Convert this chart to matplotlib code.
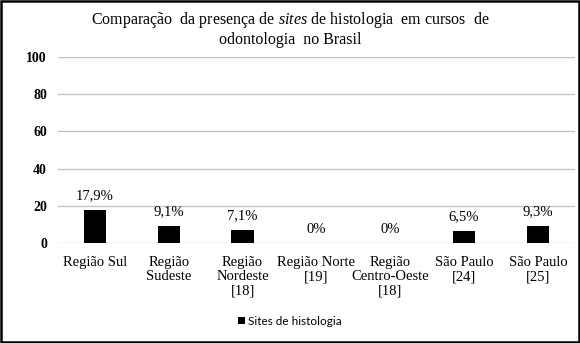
import matplotlib
matplotlib.use("Agg")
import matplotlib.pyplot as plt
from matplotlib.patches import Rectangle
import numpy as np

categorias = [
    "Região Sul",
    "Região\nSudeste",
    "Região\nNordeste\n[18]",
    "Região Norte\n[19]",
    "Região\nCentro-Oeste\n[18]",
    "São Paulo\n[24]",
    "São Paulo\n[25]",
]
valores = [17.9, 9.1, 7.1, 0, 0, 6.5, 9.3]
rotulos = ["17,9%", "9,1%", "7,1%", "0%", "0%", "6,5%", "9,3%"]
yticks = [0, 20, 40, 60, 80, 100]

plt.rcParams["font.family"] = ["Liberation Serif", "DejaVu Serif"]
plt.rcParams["mathtext.fontset"] = "custom"
plt.rcParams["mathtext.rm"] = "Liberation Serif"
plt.rcParams["mathtext.it"] = "Liberation Serif:italic"

fig = plt.figure(figsize=(5.8, 3.43), dpi=100)
ax = fig.add_axes([0.1, 0.2915, 0.891, 0.5425])

x = np.arange(len(categorias))
ax.bar(x, valores, width=0.3, color="black", label="Sites de histologia", zorder=3)
for xi, v, r in zip(x, valores, rotulos):
    ax.text(xi, v + 4, r, ha="center", va="bottom", fontsize=10.5)

ax.set_xlim(-0.5, len(categorias) - 0.5)
ax.set_ylim(0, 100)
ax.set_yticks(yticks)
ax.set_yticklabels([str(t) for t in yticks], fontsize=10, fontweight="bold")
ax.set_xticks(x)
ax.set_xticklabels(categorias, fontsize=10.5, linespacing=1.15)
ax.tick_params(axis="x", length=0, pad=9)
ax.tick_params(axis="y", length=0, pad=8)
ax.grid(axis="y", color="#bfbfbf", linewidth=0.9, zorder=0)
for s in ax.spines.values():
    s.set_visible(False)

fig.text(0.5, 0.942,
         "Comparação  da presença de $\\it{sites}$ de histologia  em cursos  de",
         ha="center", va="center", fontsize=11.5)
fig.text(0.5, 0.882, "odontologia  no Brasil", ha="center", va="center", fontsize=11.5)

leg = fig.legend(loc="center", bbox_to_anchor=(0.5, 0.063), frameon=False,
                 handlelength=0.6, handleheight=0.6, handletextpad=0.3,
                 prop={"family": "Lato", "size": 8.5})

# moldura em volta da figura
fig.patches.append(Rectangle((0.002, 0.003), 0.996, 0.994, transform=fig.transFigure,
                             fill=False, edgecolor="black", linewidth=1.8))

fig.savefig("out.png", dpi=100)
